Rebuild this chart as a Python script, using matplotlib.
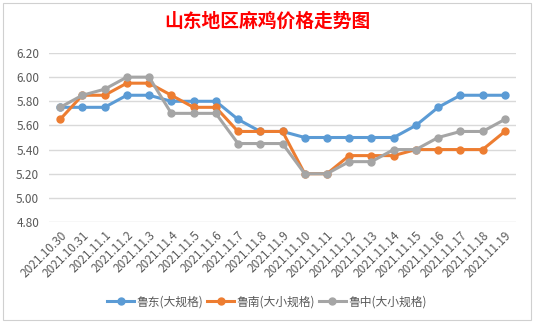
import matplotlib.pyplot as plt
from matplotlib.patches import Rectangle

plt.rcParams['font.family'] = ['Noto Sans CJK SC', 'DejaVu Sans']

dates = ['2021.10.30', '2021.10.31', '2021.11.1', '2021.11.2', '2021.11.3',
         '2021.11.4', '2021.11.5', '2021.11.6', '2021.11.7', '2021.11.8',
         '2021.11.9', '2021.11.10', '2021.11.11', '2021.11.12', '2021.11.13',
         '2021.11.14', '2021.11.15', '2021.11.16', '2021.11.17', '2021.11.18',
         '2021.11.19']

# prices per region
ludong = [5.75, 5.75, 5.75, 5.85, 5.85, 5.80, 5.80, 5.80, 5.65, 5.55, 5.55,
          5.50, 5.50, 5.50, 5.50, 5.50, 5.60, 5.75, 5.85, 5.85, 5.85]
lunan = [5.65, 5.85, 5.85, 5.95, 5.95, 5.85, 5.75, 5.75, 5.55, 5.55, 5.55,
         5.20, 5.20, 5.35, 5.35, 5.35, 5.40, 5.40, 5.40, 5.40, 5.55]
luzhong = [5.75, 5.85, 5.90, 6.00, 6.00, 5.70, 5.70, 5.70, 5.45, 5.45, 5.45,
           5.20, 5.20, 5.30, 5.30, 5.40, 5.40, 5.50, 5.55, 5.55, 5.65]

names = ['鲁东(大规格)', '鲁南(大小规格)', '鲁中(大小规格)']
colors = ['#5B9BD5', '#ED7D31', '#A5A5A5']
yticks = [4.80, 5.00, 5.20, 5.40, 5.60, 5.80, 6.00, 6.20]

fig = plt.figure(figsize=(5.34, 3.24), dpi=100)
fig.patches.append(Rectangle((3 / 534, 1 - 320 / 324), 528 / 534, 317 / 324,
                             transform=fig.transFigure, fill=False,
                             edgecolor='#D0D0D0', lw=0.8))

ax = fig.add_axes([49 / 534, 1 - 222 / 324, 467 / 534, 169 / 324])

x = list(range(len(dates)))
for vals, name, c in zip([ludong, lunan, luzhong], names, colors):
    ax.plot(x, vals, '-o', color=c, lw=2.2, ms=5, label=name, zorder=3)

ax.set_xlim(-0.5, len(dates) - 0.5)
ax.set_ylim(4.8, 6.2)
ax.set_yticks(yticks)
ax.set_yticklabels(['%.2f' % v for v in yticks], fontsize=8.5, color='#595959')
ax.set_xticks(x)
ax.set_xticklabels(dates, rotation=45, ha='right', rotation_mode='anchor',
                   fontsize=8.5, color='#595959')
ax.tick_params(axis='y', length=0, pad=7)
ax.tick_params(axis='x', length=0, pad=5)
ax.grid(axis='y', color='#D9D9D9', lw=1)
ax.set_axisbelow(True)
for s in ax.spines.values():
    s.set_visible(False)

fig.text(0.5, 1 - 21 / 324, '山东地区麻鸡价格走势图', color='red',
         fontsize=13.5, fontweight='bold', ha='center', va='center')

fig.legend(loc='center', bbox_to_anchor=(0.5, 1 - 302 / 324), ncol=3,
           frameon=False, fontsize=8.5, handlelength=2.3, columnspacing=0.3,
           handletextpad=0.2, labelcolor='#595959')

fig.savefig('out.png', dpi=100)
